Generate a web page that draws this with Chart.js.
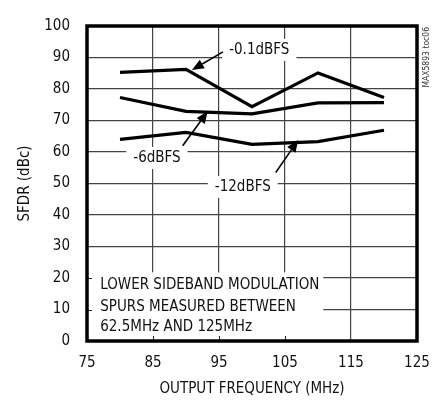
<!DOCTYPE html>
<html><head><meta charset="utf-8">
<script src="https://cdn.jsdelivr.net/npm/chart.js@4.4.1/dist/chart.umd.min.js"></script>
<style>html,body{margin:0;padding:0;background:#fff;overflow:hidden}#wrap{width:448px;height:403px}</style>
</head><body><div id="wrap"><canvas id="c" width="448" height="403"></canvas></div>
<script>
// ---- data ----
const freqMHz = [80, 90, 100, 110, 120];
const sfdrMinus0p1dBFS = [85.3, 86.2, 74.4, 85.1, 77.3];
const sfdrMinus6dBFS = [77.3, 72.9, 72.1, 75.6, 75.7];
const sfdrMinus12dBFS = [64.0, 66.2, 62.4, 63.3, 66.9];
const xTickValues = [75, 85, 95, 105, 115, 125];
const yTickValues = [0, 10, 20, 30, 40, 50, 60, 70, 80, 90, 100];
const seriesNames = ['-0.1dBFS', '-6dBFS', '-12dBFS'];
const noteLines = ['LOWER SIDEBAND MODULATION', 'SPURS MEASURED BETWEEN', '62.5MHz AND 125MHz'];
const xTitle = 'OUTPUT FREQUENCY (MHz)';
const yTitle = 'SFDR (dBc)';
const watermark = 'MAX5893 toc06';

// ---- annotation placement (data coordinates) ----
const labelAnchors = [
  {text: seriesNames[0], x: 101.1, y: 92.4, arrowFrom: [95.6, 91.8], arrowTo: [90.9, 86.0]},
  {text: seriesNames[1], x: 85.6, y: 58.1, arrowFrom: [89.5, 62.0], arrowTo: [93.3, 72.9]},
  {text: seriesNames[2], x: 98.6, y: 48.9, arrowFrom: [103.6, 53.5], arrowTo: [107.0, 63.8]}
];
const noteAnchor = {x: 77.0, y: [17.6, 10.9, 4.3], boxRight: 110.8, boxTop: 21.8};

const FONT = "'Liberation Sans Narrow', 'DejaVu Sans Condensed', Arial, sans-serif";
const FS = 15;
const toPts = ys => freqMHz.map((f, i) => ({x: f, y: ys[i]}));

const annot = {
  id: 'annot',
  beforeDatasetsDraw(chart) {
    const {ctx, scales: {x, y}, chartArea: a} = chart;
    ctx.save();
    ctx.fillStyle = '#fff';
    ctx.font = FS + 'px ' + FONT;
    labelAnchors.forEach(l => {
      const w = ctx.measureText(l.text).width;
      const cx = x.getPixelForValue(l.x), cy = y.getPixelForValue(l.y);
      ctx.fillRect(cx - w / 2 - 7, cy - 11, w + 14, 22);
    });
    // note box
    const nl = a.left + 1, nr = x.getPixelForValue(noteAnchor.boxRight);
    const nt = y.getPixelForValue(noteAnchor.boxTop);
    ctx.fillRect(nl, nt, nr - nl, a.bottom - nt);
    // inner ticks inside the note box
    ctx.strokeStyle = '#222';
    ctx.lineWidth = 1;
    [85, 95, 105].forEach(v => {
      const px = Math.round(x.getPixelForValue(v)) + 0.5;
      ctx.beginPath(); ctx.moveTo(px, a.bottom); ctx.lineTo(px, a.bottom - 5); ctx.stroke();
    });
    [10, 20].forEach(v => {
      const py = Math.round(y.getPixelForValue(v)) + 0.5;
      ctx.beginPath(); ctx.moveTo(a.left, py); ctx.lineTo(a.left + 5, py); ctx.stroke();
    });
    ctx.restore();
  },
  afterDatasetsDraw(chart) {
    const {ctx, scales: {x, y}, chartArea: a} = chart;
    ctx.save();
    // frame
    ctx.strokeStyle = '#000';
    ctx.lineWidth = 3.5;
    ctx.strokeRect(a.left, a.top, a.right - a.left, a.bottom - a.top);
    // labels
    ctx.fillStyle = '#111';
    ctx.font = FS + 'px ' + FONT;
    ctx.textAlign = 'center';
    ctx.textBaseline = 'middle';
    labelAnchors.forEach(l => {
      ctx.fillText(l.text, x.getPixelForValue(l.x), y.getPixelForValue(l.y));
      const x0 = x.getPixelForValue(l.arrowFrom[0]), y0 = y.getPixelForValue(l.arrowFrom[1]);
      const x1 = x.getPixelForValue(l.arrowTo[0]), y1 = y.getPixelForValue(l.arrowTo[1]);
      const ang = Math.atan2(y1 - y0, x1 - x0);
      const hl = 12, hw = 5;
      const bx = x1 - hl * Math.cos(ang), by = y1 - hl * Math.sin(ang);
      ctx.strokeStyle = '#000'; ctx.lineWidth = 1.6;
      ctx.beginPath(); ctx.moveTo(x0, y0); ctx.lineTo(bx, by); ctx.stroke();
      ctx.beginPath();
      ctx.moveTo(x1, y1);
      ctx.lineTo(bx + hw * Math.sin(ang), by - hw * Math.cos(ang));
      ctx.lineTo(bx - hw * Math.sin(ang), by + hw * Math.cos(ang));
      ctx.closePath(); ctx.fillStyle = '#000'; ctx.fill();
      ctx.fillStyle = '#111';
    });
    // note
    ctx.textAlign = 'left';
    noteLines.forEach((t, i) => ctx.fillText(t, x.getPixelForValue(noteAnchor.x), y.getPixelForValue(noteAnchor.y[i])));
    // watermark
    ctx.font = '8.5px ' + FONT;
    ctx.fillStyle = '#333';
    ctx.translate(a.right + 10, a.top + 1);
    ctx.rotate(-Math.PI / 2);
    ctx.textAlign = 'right';
    ctx.fillText(watermark, 0, 0);
    ctx.restore();
  }
};

const lineStyle = {borderColor: '#000', borderWidth: 3.2, pointRadius: 0, tension: 0, fill: false, clip: false};

new Chart(document.getElementById('c'), {
  type: 'line',
  data: {
    datasets: [
      Object.assign({label: seriesNames[0], data: toPts(sfdrMinus0p1dBFS)}, lineStyle),
      Object.assign({label: seriesNames[1], data: toPts(sfdrMinus6dBFS)}, lineStyle),
      Object.assign({label: seriesNames[2], data: toPts(sfdrMinus12dBFS)}, lineStyle)
    ]
  },
  options: {
    responsive: false,
    animation: false,
    devicePixelRatio: 1,
    layout: {padding: {left: 0, right: 31, top: 12, bottom: 0}},
    plugins: {legend: {display: false}, tooltip: {enabled: false}},
    scales: {
      x: {
        type: 'linear', min: xTickValues[0], max: xTickValues[xTickValues.length - 1],
        afterBuildTicks: s => { s.ticks = xTickValues.map(v => ({value: v})); },
        afterFit: s => { s.height = 62; },
        grid: {color: '#444', lineWidth: 1.2, drawTicks: false},
        border: {display: false},
        ticks: {color: '#111', font: {family: FONT, size: FS}, padding: 13, maxRotation: 0},
        title: {display: true, text: xTitle, color: '#111', font: {family: FONT, size: FS}, padding: {top: 0, bottom: 5}}
      },
      y: {
        min: yTickValues[0], max: yTickValues[yTickValues.length - 1],
        afterBuildTicks: s => { s.ticks = yTickValues.map(v => ({value: v})); },
        afterFit: s => { s.width = 87; },
        grid: {color: '#444', lineWidth: 1.2, drawTicks: false},
        border: {display: false},
        ticks: {color: '#111', font: {family: FONT, size: FS}, padding: 17},
        title: {display: true, text: yTitle, color: '#111', font: {family: FONT, size: FS}, padding: {top: 16, bottom: 0}}
      }
    }
  },
  plugins: [annot]
});
</script></body></html>
